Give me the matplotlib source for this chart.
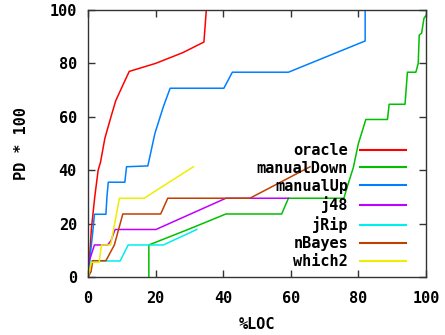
import matplotlib
matplotlib.use("Agg")
import matplotlib.pyplot as plt

# PD vs %LOC curves per learner
oracle_x = [0, 0.5, 1, 1.5, 2, 2.6, 3.0, 3.7, 5, 6.8, 8.2, 10, 12.2, 20, 28, 34.3, 35]
oracle_y = [0, 8, 18, 24, 30, 36, 40, 43, 52, 60, 66, 71, 77, 80, 84, 88, 100]

down_x = [18, 18, 30, 40.8, 57.3, 59.3, 75.7, 77, 78.5, 80, 82.2, 88.6, 89.1,
          93.8, 94.5, 97, 97.7, 98, 98.7, 99.4, 100]
down_y = [0, 12, 18, 23.6, 23.6, 29.5, 29.5, 35, 41, 50, 59, 59, 64.7,
          64.7, 76.7, 76.7, 80, 90.6, 91.3, 96.9, 98]

up_x = [0, 0.5, 1, 1.5, 1.9, 5.3, 5.6, 6.0, 10.9, 11.4, 17.7, 19.8, 22.3, 24.3,
        40.2, 42.7, 59.3, 82, 82]
up_y = [0, 6, 12, 18, 23.5, 23.5, 30, 35.5, 35.5, 41.3, 41.6, 53.8, 63.8, 70.7,
        70.7, 76.7, 76.7, 88.4, 100]

j48_x = [0, 0.3, 1.9, 5.8, 6.8, 8, 20.1, 40.8, 59.3]
j48_y = [0, 5.7, 12, 12, 13.6, 17.8, 17.8, 29.5, 29.5]

jrip_x = [0, 1, 9.5, 11.9, 22.3, 32.2]
jrip_y = [0, 6, 6, 12, 12, 17.8]

nb_x = [0, 0.9, 1.4, 5.3, 7.8, 10.3, 21.5, 23.6, 47.9, 65.7]
nb_y = [0, 2, 6.1, 6.1, 12, 23.6, 23.6, 29.5, 29.5, 41.3]

w2_x = [0, 1, 3.3, 4, 6.7, 9.3, 16.6, 31.2]
w2_y = [0, 5.5, 5.5, 12, 12, 29.5, 29.5, 41.3]

series = [
    ("oracle", oracle_x, oracle_y, "#ff0000"),
    ("manualDown", down_x, down_y, "#00c000"),
    ("manualUp", up_x, up_y, "#0080ff"),
    ("j48", j48_x, j48_y, "#c000ff"),
    ("jRip", jrip_x, jrip_y, "#00eeee"),
    ("nBayes", nb_x, nb_y, "#c04000"),
    ("which2", w2_x, w2_y, "#eeee00"),
]

plt.rcParams["font.family"] = "DejaVu Sans Mono"
plt.rcParams["font.weight"] = "bold"
plt.rcParams["font.size"] = 11

fig = plt.figure(figsize=(4.45, 3.35), dpi=100)
ax = fig.add_axes([88 / 445, 58 / 335, 338 / 445, 267 / 335])

for name, xs, ys, c in series:
    ax.plot(xs, ys, color=c, lw=1.1, label=name)

ax.set_xlim(0, 100)
ax.set_ylim(0, 100)
ax.set_xticks([0, 20, 40, 60, 80, 100])
ax.set_yticks([0, 20, 40, 60, 80, 100])
ax.tick_params(direction="in", length=5, width=1, top=True, right=True,
               color="#333333")
ax.tick_params(axis="x", pad=10)
ax.tick_params(axis="y", pad=8)
for s in ax.spines.values():
    s.set_linewidth(1)
    s.set_color("#333333")

ax.set_xlabel("%LOC", fontweight="bold", labelpad=8)
ax.set_ylabel("PD * 100", fontweight="bold", labelpad=15)

leg = ax.legend(loc="center right", bbox_to_anchor=(0.941, 0.266),
                frameon=False, markerfirst=False, handlelength=3.0,
                handletextpad=0.8, labelspacing=0.19, borderpad=0,
                borderaxespad=0)
for line in leg.get_lines():
    line.set_linewidth(1.5)

fig.savefig("out.png", dpi=100)
